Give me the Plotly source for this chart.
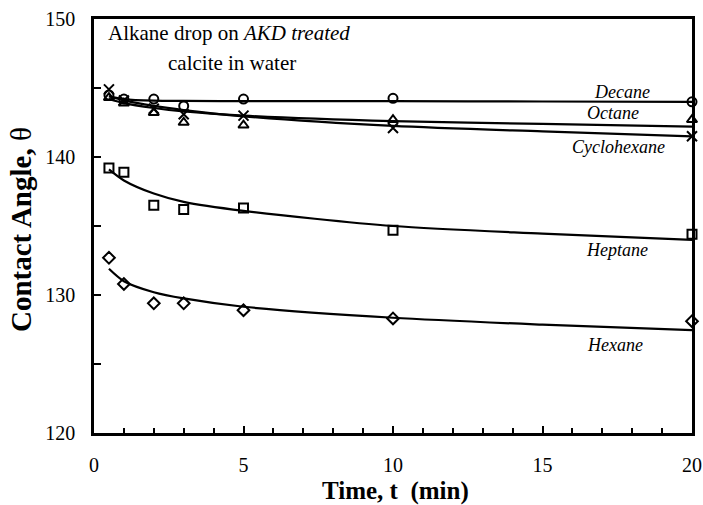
import plotly.graph_objects as go

# ---- data ----
time_min = [0.5, 1, 2, 3, 5, 10, 20]

decane = [144.5, 144.2, 144.2, 143.7, 144.2, 144.25, 144.0]
octane = [144.3, 143.9, 143.2, 142.5, 142.3, 142.7, 142.7]
cyclohexane = [144.9, 144.1, 143.5, 143.1, 143.0, 142.1, 141.5]
heptane = [139.2, 138.9, 136.5, 136.2, 136.3, 134.7, 134.4]
hexane = [132.7, 130.8, 129.4, 129.4, 128.9, 128.3, 128.1]

# fitted curves
fit_t = [0.5, 1, 2, 3, 5, 10, 15, 20]
decane_fit = [144.4, 144.2, 144.08, 144.06, 144.05, 144.05, 144.02, 144.0]
octane_fit = [144.2, 143.9, 143.55, 143.3, 143.0, 142.6, 142.4, 142.2]
cyclohexane_fit = [144.4, 144.1, 143.7, 143.4, 142.95, 142.25, 141.85, 141.5]
heptane_fit = [139.1, 138.3, 137.35, 136.75, 136.1, 135.0, 134.45, 134.0]
hexane_fit = [131.9, 131.0, 130.2, 129.75, 129.15, 128.35, 127.85, 127.45]

series = [
    ("Decane", decane, decane_fit, "circle-open"),
    ("Octane", octane, octane_fit, "triangle-up-open"),
    ("Cyclohexane", cyclohexane, cyclohexane_fit, "x-thin-open"),
    ("Heptane", heptane, heptane_fit, "square-open"),
    ("Hexane", hexane, hexane_fit, "diamond-open"),
]

SERIF = "Liberation Serif"

fig = go.Figure()
for name, vals, fit, sym in series:
    fig.add_trace(go.Scatter(
        x=fit_t, y=fit, mode="lines",
        line=dict(color="black", width=2.2, shape="spline", smoothing=0.8),
        showlegend=False, hoverinfo="skip", cliponaxis=False))
    fig.add_trace(go.Scatter(
        x=time_min, y=vals, mode="markers", name=name, showlegend=False,
        marker=dict(symbol=sym, size=9 if sym != "x-thin-open" else 10, color="black",
                    line=dict(color="black", width=2)),
        cliponaxis=False))

label_pos = {
    "Decane": (17.66, 144.71),
    "Octane": (17.36, 143.19),
    "Cyclohexane": (17.53, 140.72),
    "Heptane": (17.49, 133.26),
    "Hexane": (17.42, 126.38),
}
for name, (lx, ly) in label_pos.items():
    fig.add_annotation(x=lx, y=ly, text=f"<i>{name}</i>", showarrow=False,
                       font=dict(family=SERIF, size=18, color="black"),
                       xanchor="center", yanchor="middle")

fig.add_annotation(xref="paper", yref="paper", x=(106 - 94) / 598, y=(433 - 33) / 414,
                   text="Alkane drop on <i>AKD treated</i>", showarrow=False,
                   xanchor="left", yanchor="middle",
                   font=dict(family=SERIF, size=21, color="black"))
fig.add_annotation(xref="paper", yref="paper", x=(232 - 94) / 598, y=(433 - 63) / 414,
                   text="calcite in water", showarrow=False,
                   xanchor="center", yanchor="middle",
                   font=dict(family=SERIF, size=21, color="black"))

# axis titles placed as text
fig.add_annotation(xref="paper", yref="paper", x=(21 - 94) / 598, y=(433 - 230) / 414,
                   text="<b>Contact Angle, </b>θ", showarrow=False, textangle=-90,
                   xanchor="center", yanchor="middle",
                   font=dict(family=SERIF, size=29, color="black"))
fig.add_annotation(xref="paper", yref="paper", x=(395 - 94) / 598, y=(433 - 491) / 414,
                   text="<b>Time, t&nbsp;&nbsp;(min)</b>", showarrow=False,
                   xanchor="center", yanchor="middle",
                   font=dict(family=SERIF, size=25, color="black"))

fig.update_xaxes(
    range=[0, 20], tickvals=[0, 5, 10, 15, 20], ticktext=["0", "5", "10", "15", "20"],
    ticks="inside", ticklen=7, tickwidth=2, tickcolor="black",
    minor=dict(dtick=1, ticks="inside", ticklen=5, tickwidth=2, tickcolor="black"),
    showline=True, linecolor="black", linewidth=2.5, mirror=True, showgrid=False, zeroline=False,
    tickfont=dict(family=SERIF, size=20, color="black"), ticklabelstandoff=12,
    automargin=False,
)
fig.update_yaxes(
    range=[120, 150], tickvals=[120, 130, 140, 150], ticktext=["120", "130", "140", "150"],
    ticks="inside", ticklen=7, tickwidth=2, tickcolor="black",
    minor=dict(tickvals=[125, 135, 145], ticks="inside", ticklen=7, tickwidth=2, tickcolor="black"),
    showline=True, linecolor="black", linewidth=2.5, mirror=True, showgrid=False, zeroline=False,
    tickfont=dict(family=SERIF, size=20, color="black"), ticklabelstandoff=12,
    automargin=False,
)

fig.update_layout(
    width=703, height=505,
    margin=dict(l=94, r=11, t=19, b=72, autoexpand=False),
    plot_bgcolor="white", paper_bgcolor="white",
)

fig.write_html("out.html", config={"displayModeBar": False},
               post_script="document.body.style.margin='0';document.body.style.overflow='hidden';")
